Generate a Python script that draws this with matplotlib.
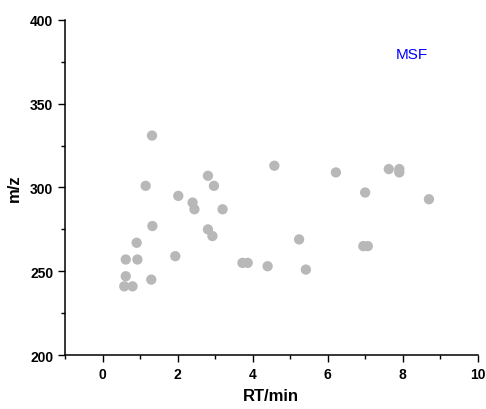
import numpy as np
import matplotlib.pyplot as plt
from matplotlib.ticker import MultipleLocator

plt.rcParams['font.family'] = ['Liberation Sans', 'DejaVu Sans']

# retention time (min) and m/z
rt = [1.32, 1.15, 1.33, 0.91, 0.62, 0.93, 0.62, 0.58, 0.80, 1.30,
      1.94, 2.02, 2.40, 2.45, 2.81, 2.97, 3.20, 2.81, 2.93, 3.73,
      3.87, 4.58, 6.22, 7.63, 7.91, 7.91, 7.00, 8.70, 5.24, 6.95,
      7.07, 4.40, 5.42]
mz = [331, 301, 277, 267, 257, 257, 247, 241, 241, 245,
      259, 295, 291, 287, 307, 301, 287, 275, 271, 255,
      255, 313, 309, 311, 311, 309, 297, 293, 269, 265,
      265, 253, 251]

fig = plt.figure(figsize=(4.86, 4.10), dpi=100)
ax = fig.add_axes([0.1337, 0.1317, 0.8493, 0.8171])

ax.scatter(rt, mz, s=55, color='#b8b8b8', edgecolors='none', zorder=3)
ax.text(8.24, 379.7, 'MSF', color='blue', fontsize=11, ha='center', va='center')

ax.set_xlim(-1, 10)
ax.set_ylim(200, 400)
ax.xaxis.set_major_locator(MultipleLocator(2))
ax.xaxis.set_minor_locator(MultipleLocator(1))
ax.yaxis.set_major_locator(MultipleLocator(50))
ax.yaxis.set_minor_locator(MultipleLocator(25))

for s in ['top', 'right']:
    ax.spines[s].set_visible(False)
for s in ['left', 'bottom']:
    ax.spines[s].set_linewidth(1.1)

ax.tick_params(which='major', direction='out', length=5, width=1.0, labelsize=10)
ax.tick_params(which='minor', direction='out', length=3, width=1.0)
for lab in ax.get_xticklabels() + ax.get_yticklabels():
    lab.set_fontweight('bold')

ax.set_xlabel('RT/min', fontsize=12, fontweight='bold', labelpad=5)
ax.set_ylabel('m/z', fontsize=12, fontweight='bold', labelpad=6)

fig.savefig('out.png', dpi=100)
